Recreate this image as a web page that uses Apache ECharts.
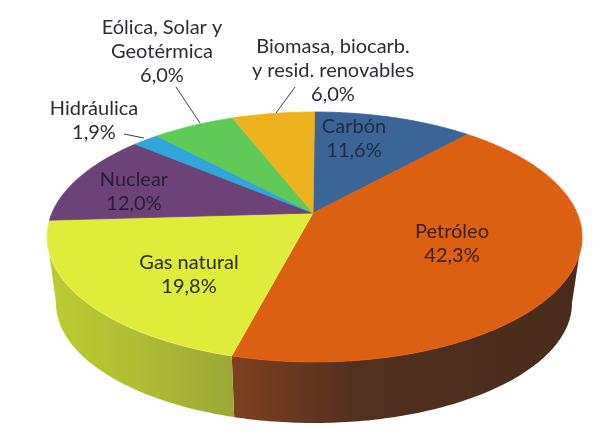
<!DOCTYPE html>
<html>
<head>
<meta charset="utf-8">
<style>
  html, body { margin: 0; padding: 0; background: #fff; }
  #chart { width: 597px; height: 448px; }
</style>
<script src="https://cdn.jsdelivr.net/npm/echarts@6/dist/echarts.min.js"></script>
</head>
<body>
<div id="chart"></div>
<script>
// categories and values, clockwise from 12 o'clock
const categories = ['Carbón', 'Petróleo', 'Gas natural', 'Nuclear', 'Hidráulica', 'Eólica, Solar y\nGeotérmica', 'Biomasa, biocarb.\ny resid. renovables'];
const shares = [11.6, 42.3, 19.8, 12.0, 1.9, 6.0, 6.0];

const faceColors = ['#3b6497', '#dc6011', '#e0ec3a', '#6c4379', '#30a6da', '#60ca58', '#efb21f'];
const faceEdges = ['#3b6497', '#dc6011', '#f0ee6a', '#6c4379', '#30a6da', '#60ca58', '#efb21f'];
const wallStops = [null, ['#80401f', '#52301f', '#492c1c'], ['#bccd30', '#aebd33', '#9aa838'], null, null, null, null];
const labelColors = ['#1f2c44', '#3a2015', '#2a2d12', '#2a1b38', '#2c2c38', '#2c2c38', '#2c2c38'];

// label centre x, centre y of the text block
const labelAnchors = [[354, 139], [452, 244], [189, 275], [134, 192], [94, 121], [162, 52], [333, 71]];
// leader lines, only for labels sitting off the pie
const leaders = [null, null, null, null, [[124, 134], [144, 138]], [[176, 87], [200, 123]], [[295, 87], [276, 113]]];

// pie drawn in perspective: top rim, bottom rim, and the apex the slices meet at
const topRim = { cx: 314.5, cy: 237, rx: 267.5, ry: 125 };
const bottomRim = { cx: 314, cy: 303, rx: 258, ry: 120 };
const apex = [313, 213];
const persp = 0.82; // foreshortening of the angle seen on the rim

const total = shares.reduce((a, b) => a + b, 0);
const starts = [];
shares.reduce((sum, v, i) => { starts[i] = sum; return sum + v; }, 0);

// true pie angle (deg) -> angle along the drawn ellipse (deg)
function rimAngle(deg) {
  if (deg <= 0) return 0;
  if (deg >= 360) return 360;
  const half = deg / 2 * Math.PI / 180;
  let a = Math.atan(persp * Math.tan(half));
  if (a < 0) a += Math.PI;
  return a * 2 * 180 / Math.PI;
}
function rimPoint(rim, deg) {
  const r = deg * Math.PI / 180;
  return [rim.cx + rim.rx * Math.sin(r), rim.cy - rim.ry * Math.cos(r)];
}
function sliceRange(i) {
  return [rimAngle(starts[i] / total * 360), rimAngle((starts[i] + shares[i]) / total * 360)];
}
function arc(rim, a0, a1) {
  const pts = [];
  for (let a = a0; a < a1; a += 1) pts.push(rimPoint(rim, a));
  pts.push(rimPoint(rim, a1));
  return pts;
}

function renderWall(params) {
  const i = params.dataIndex;
  if (!wallStops[i]) return { type: 'group', children: [] };
  const range = sliceRange(i);
  const a0 = Math.max(range[0], 90);
  const a1 = Math.min(range[1], 270);
  const outer = arc(topRim, a0, a1);
  const lower = arc(bottomRim, a0, a1).reverse();
  const xs = outer.concat(lower).map(p => p[0]);
  const stops = wallStops[i];
  return {
    type: 'polygon',
    shape: { points: outer.concat(lower) },
    style: {
      fill: new echarts.graphic.LinearGradient(Math.min(...xs), 0, Math.max(...xs), 0, [
        { offset: 0, color: stops[0] },
        { offset: i === 1 ? 0.35 : 0.5, color: stops[1] },
        { offset: 1, color: stops[2] }
      ], true)
    }
  };
}

function renderFace(params) {
  const i = params.dataIndex;
  const range = sliceRange(i);
  return {
    type: 'polygon',
    shape: { points: [apex].concat(arc(topRim, range[0], range[1])) },
    style: { fill: faceColors[i], stroke: faceEdges[i], lineWidth: 0.8 }
  };
}

function renderLabel(params, api) {
  const i = params.dataIndex;
  const pct = api.value(0).toFixed(1).replace('.', ',') + '%';
  const children = [{
    type: 'text',
    style: {
      x: labelAnchors[i][0], y: labelAnchors[i][1],
      text: categories[i] + '\n' + pct,
      font: '20px Lato',
      lineHeight: 24,
      align: 'center', verticalAlign: 'middle',
      fill: labelColors[i]
    }
  }];
  if (leaders[i]) {
    children.push({
      type: 'polyline',
      shape: { points: leaders[i] },
      style: { fill: null, stroke: '#3a3a42', lineWidth: 1 }
    });
  }
  return { type: 'group', children: children };
}

const seriesData = shares.map((v, i) => ({ name: categories[i], value: [v] }));

const chart = echarts.init(document.getElementById('chart'), null, { renderer: 'canvas' });
chart.setOption({
  animation: false,
  backgroundColor: '#fff',
  series: [
    { type: 'custom', coordinateSystem: 'none', silent: true, z: 1, data: seriesData, renderItem: renderWall },
    { type: 'custom', coordinateSystem: 'none', silent: true, z: 2, data: seriesData, renderItem: renderFace },
    { type: 'custom', coordinateSystem: 'none', silent: true, z: 3, data: seriesData, renderItem: renderLabel }
  ]
});
</script>
</body>
</html>
